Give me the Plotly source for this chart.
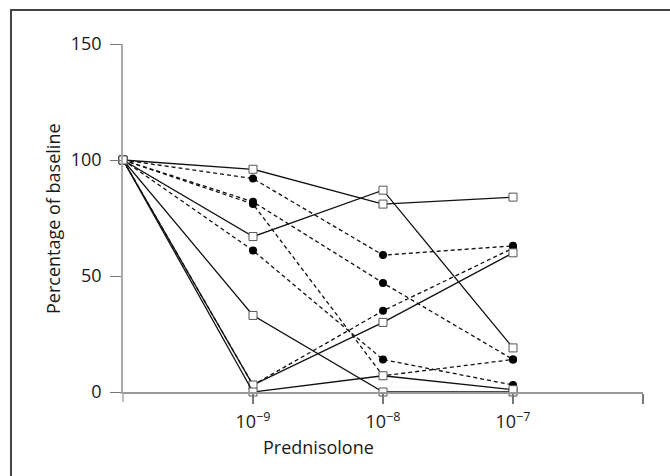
import plotly.graph_objects as go

# Dose positions (index) and tick labels
dose_index = [0, 1, 2, 3]
tick_positions = [1, 2, 3, 4]
tick_labels = ["10<sup>−9</sup>", "10<sup>−8</sup>", "10<sup>−7</sup>", ""]
y_ticks = [0, 50, 100, 150]

# Solid lines, open squares
solid_a = [100, 96, 81, 84]
solid_b = [100, 67, 87, 19]
solid_c = [100, 33, 0, 0]
solid_d = [100, 3, 30, 60]
solid_e = [100, 0, 7, 1]

# Dashed lines, filled circles
dashed_h = [100, 92, 59, 63]
dashed_i = [100, 82, 47, 14]
dashed_f = [100, 81, 7, 14]
dashed_g = [100, 61, 14, 3]
dashed_j = [100, 3, 35, 62]

solid_series = [solid_a, solid_b, solid_c, solid_d, solid_e]
dashed_series = [dashed_h, dashed_i, dashed_f, dashed_g, dashed_j]

FONT = "Open Sans"
FS = 18
TXT = "#1a1a1a"
fig = go.Figure()

for ys in dashed_series:
    fig.add_trace(go.Scatter(
        x=dose_index, y=ys, mode="lines+markers", cliponaxis=False,
        line=dict(color="#111111", width=1.3, dash="4px,3px"),
        marker=dict(symbol="circle", size=8, color="#000000", line=dict(width=0)),
        showlegend=False, hoverinfo="skip"))

for ys in solid_series:
    fig.add_trace(go.Scatter(
        x=dose_index, y=ys, mode="lines+markers", cliponaxis=False,
        line=dict(color="#111111", width=1.3),
        marker=dict(symbol="square", size=8, color="#ffffff", line=dict(width=1, color="#555555")),
        showlegend=False, hoverinfo="skip"))

W = 520.0
H = 348.0
fig.update_layout(
    width=670, height=476,
    margin=dict(l=123, r=27, t=44, b=84),
    paper_bgcolor="white", plot_bgcolor="white",
    font=dict(family=FONT, size=FS, color=TXT),
    xaxis=dict(range=[0, 4], tickvals=tick_positions, ticktext=tick_labels,
               showgrid=False, zeroline=False, showline=True, linecolor="#999999", linewidth=1.5,
               ticks="outside", ticklen=10, tickcolor="#777777", tickwidth=1.5,
               ticklabelstandoff=3,
               tickfont=dict(family=FONT, size=FS, color=TXT)),
    yaxis=dict(range=[0, 150], tickvals=y_ticks,
               showgrid=False, zeroline=False, showline=True, linecolor="#aaaaaa", linewidth=1.5,
               ticks="outside", ticklen=11, tickcolor="#777777", tickwidth=1.2,
               ticklabelstandoff=5,
               tickfont=dict(family=FONT, size=FS, color=TXT)),
    shapes=[
        # outer frame (extends past the right and bottom edges)
        dict(type="rect", xref="paper", yref="paper",
             x0=(11 - 123) / W, x1=(700 - 123) / W,
             y0=(392 - 500) / H, y1=(392 - 10) / H,
             line=dict(color="#444444", width=2), fillcolor="rgba(0,0,0,0)", layer="below"),
        # y-axis extension below zero
        dict(type="line", xref="paper", yref="paper", x0=0, x1=0, y0=-10 / H, y1=0,
             line=dict(color="#aaaaaa", width=1.5)),
    ],
    annotations=[
        dict(text="Percentage of baseline", xref="paper", yref="paper",
             x=(53 - 123) / W, y=(392 - 219) / H, textangle=-90, showarrow=False,
             xanchor="center", yanchor="middle", font=dict(family=FONT, size=FS, color=TXT)),
        dict(text="Prednisolone", xref="paper", yref="paper",
             x=(318 - 123) / W, y=(392 - 447) / H, showarrow=False,
             xanchor="center", yanchor="middle", font=dict(family=FONT, size=FS, color=TXT)),
    ],
)

fig.write_html("out.html", config={"displayModeBar": False},
               post_script="document.body.style.margin='0';")
